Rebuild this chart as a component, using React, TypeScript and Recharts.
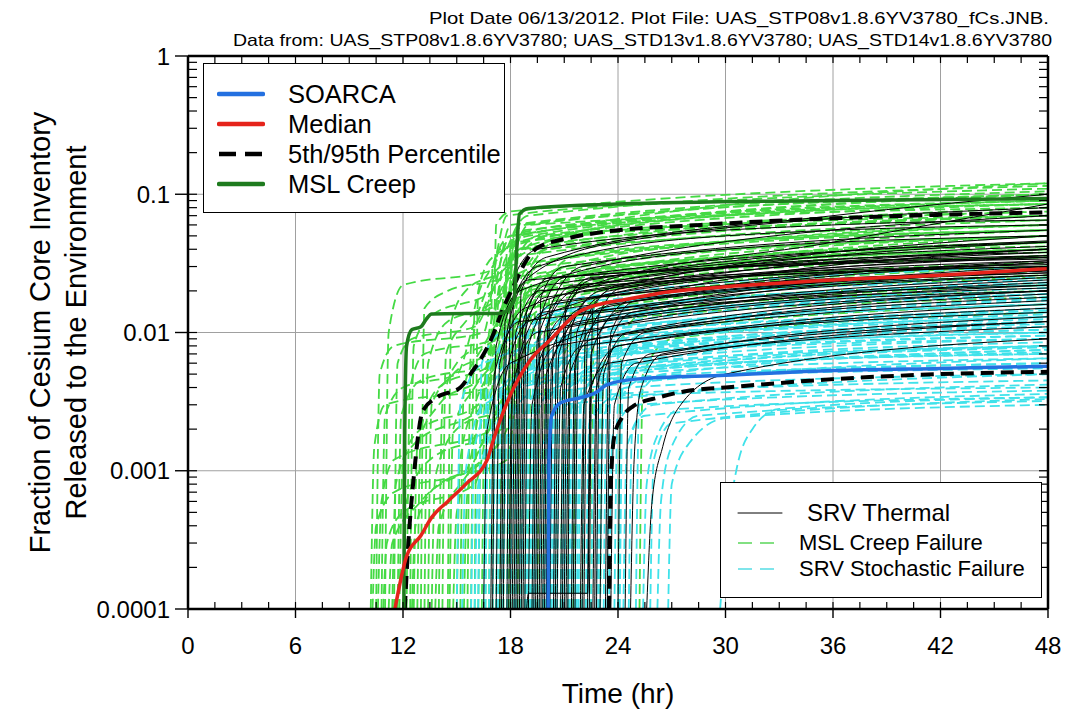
import { CartesianGrid, Line, LineChart, XAxis, YAxis } from "recharts";

type Pt = [number, number];

const xTicks = [0, 6, 12, 18, 24, 30, 36, 42, 48];
const xMinorTicks = [
  0, 1.5, 3, 4.5, 6, 7.5, 9, 10.5, 12, 13.5, 15, 16.5, 18, 19.5, 21, 22.5, 24, 25.5, 27, 28.5, 30, 31.5,
  33, 34.5, 36, 37.5, 39, 40.5, 42, 43.5, 45, 46.5, 48,
];
const yTicks = [0.0001, 0.001, 0.01, 0.1, 1];
const yMinorTicks = [
  0.0001, 0.0002, 0.0003, 0.0004, 0.0005, 0.0006, 0.0007, 0.0008, 0.0009,
  0.001, 0.002, 0.003, 0.004, 0.005, 0.006, 0.007, 0.008, 0.009,
  0.01, 0.02, 0.03, 0.04, 0.05, 0.06, 0.07, 0.08, 0.09,
  0.1, 0.2, 0.3, 0.4, 0.5, 0.6, 0.7, 0.8, 0.9, 1,
];

const titleLines = [
  "Plot Date 06/13/2012. Plot File: UAS_STP08v1.8.6YV3780_fCs.JNB.",
  "Data from: UAS_STP08v1.8.6YV3780; UAS_STD13v1.8.6YV3780; UAS_STD14v1.8.6YV3780",
];

// highlighted curves
const soarca: Pt[] = [
  [20.1, 1e-4], [20.15, 0.0012], [20.3, 0.0025], [20.8, 0.0031], [22, 0.0034], [22.8, 0.0037],
  [23.4, 0.0042], [25, 0.0046], [30, 0.0049], [36, 0.0053], [42, 0.0055], [48, 0.0057],
];
const median: Pt[] = [
  [11.55, 1e-4], [12.2, 0.00024], [13, 0.00034], [13.6, 0.00046], [14.5, 0.0006], [15.55, 0.00081],
  [16.7, 0.0012], [17, 0.0016], [17.8, 0.0031], [19.1, 0.0063], [20.2, 0.0088], [22, 0.0145],
  [24.8, 0.0177], [27, 0.0198], [30, 0.0214], [36, 0.024], [42, 0.026], [48, 0.029],
];
const pct5: Pt[] = [
  [23.5, 1e-4], [23.6, 0.0008], [23.8, 0.0018], [24.2, 0.0024], [24.8, 0.0029], [26.3, 0.0034],
  [28, 0.0038], [30, 0.004], [36, 0.0046], [42, 0.005], [48, 0.0052],
];
const pct95: Pt[] = [
  [12.1, 1e-4], [12.3, 0.0003], [12.6, 0.0009], [13.1, 0.0027], [13.9, 0.0034], [15.2, 0.004],
  [15.9, 0.0053], [16.3, 0.0063], [16.9, 0.0088], [17.6, 0.015], [18.2, 0.022], [18.9, 0.0335],
  [19.5, 0.041], [21.2, 0.048], [23, 0.053], [28.6, 0.06], [36, 0.067], [42, 0.071], [48, 0.074],
];
const mslCreep: Pt[] = [
  [12.05, 1e-4], [12.1, 0.002], [12.2, 0.008], [12.5, 0.0105], [13, 0.011], [13.3, 0.0125],
  [13.6, 0.0136], [17.5, 0.0138], [18.2, 0.017], [18.35, 0.04], [18.5, 0.072], [19, 0.079],
  [24, 0.085], [36, 0.09], [48, 0.093],
];

// ensemble realizations
const srvThermalRuns: Pt[][] = [
  [[16.5, 1e-4], [16.7, 0.002], [18, 0.006], [30, 0.015], [48, 0.02]],
  [[16.9, 1e-4], [17.1, 0.005], [18.5, 0.012], [48, 0.021]],
  [[17, 1e-4], [17.2, 0.008], [18.5, 0.02], [30, 0.04], [48, 0.05]],
  [[17.2, 1e-4], [17.4, 0.006], [18.8, 0.015], [30, 0.03], [48, 0.038]],
  [[17.4, 1e-4], [17.6, 0.004], [19, 0.012], [30, 0.025], [48, 0.03]],
  [[17.5, 1e-4], [17.7, 0.012], [19, 0.024], [48, 0.035]],
  [[17.6, 1e-4], [17.8, 0.01], [19, 0.025], [24, 0.045], [48, 0.08]],
  [[17.8, 1e-4], [18, 0.015], [19.5, 0.03], [30, 0.05], [48, 0.06]],
  [[17.9, 1e-4], [18.1, 0.004], [19.5, 0.01], [48, 0.022]],
  [[18, 1e-4], [18.2, 0.025], [19.5, 0.04], [36, 0.06], [48, 0.065]],
  [[18.1, 1e-4], [18.3, 0.01], [19.6, 0.02], [48, 0.03]],
  [[18.2, 1e-4], [18.4, 0.006], [19.8, 0.014], [48, 0.028]],
  [[18.3, 1e-4], [18.5, 0.009], [20, 0.018], [48, 0.035]],
  [[18.4, 1e-4], [18.6, 0.02], [20, 0.035], [36, 0.07], [48, 0.1]],
  [[18.5, 1e-4], [18.7, 0.012], [20, 0.022], [48, 0.042]],
  [[18.6, 1e-4], [18.8, 0.01], [20, 0.02], [48, 0.04]],
  [[18.7, 1e-4], [18.9, 0.014], [20.2, 0.025], [48, 0.034]],
  [[18.8, 1e-4], [19, 0.008], [20.3, 0.016], [48, 0.032]],
  [[18.9, 1e-4], [19, 1.3e-4], [22.3, 1.3e-4], [22.5, 0.004], [24, 0.008], [48, 0.016]],
  [[19, 1e-4], [19.2, 0.003], [20.5, 0.008], [48, 0.017]],
  [[19.2, 1e-4], [19.4, 0.005], [20.8, 0.011], [48, 0.023]],
  [[19.3, 1e-4], [19.5, 0.009], [20.8, 0.017], [48, 0.027]],
  [[19.4, 1e-4], [19.6, 0.012], [21, 0.025], [48, 0.045]],
  [[19.5, 1e-4], [19.7, 0.018], [21, 0.03], [48, 0.055]],
  [[19.6, 1e-4], [19.8, 0.007], [21, 0.013], [48, 0.026]],
  [[19.7, 1e-4], [19.9, 0.01], [21.5, 0.02], [36, 0.045], [48, 0.085]],
  [[19.8, 1e-4], [20, 0.005], [21.5, 0.01], [48, 0.02]],
  [[19.9, 1e-4], [20.1, 0.012], [21.5, 0.022], [48, 0.031]],
  [[20, 1e-4], [20.2, 0.015], [22, 0.03], [48, 0.07]],
  [[20.1, 1e-4], [20.3, 0.006], [21.8, 0.012], [48, 0.025]],
  [[20.2, 1e-4], [20.4, 0.008], [22, 0.015], [48, 0.033]],
  [[20.4, 1e-4], [20.6, 0.01], [22, 0.02], [48, 0.038]],
  [[20.5, 1e-4], [20.7, 0.007], [22, 0.014], [48, 0.022]],
  [[20.6, 1e-4], [20.8, 0.004], [22, 0.008], [48, 0.014]],
  [[20.8, 1e-4], [21, 0.013], [22.5, 0.024], [48, 0.046]],
  [[20.9, 1e-4], [21.1, 0.016], [22.5, 0.025], [48, 0.036]],
  [[21, 1e-4], [21.2, 0.009], [22.5, 0.018], [48, 0.036]],
  [[21.1, 1e-4], [21.3, 0.005], [22.6, 0.009], [48, 0.018]],
  [[21.2, 1e-4], [21.4, 0.011], [23, 0.02], [48, 0.05]],
  [[21.4, 1e-4], [21.6, 0.006], [23, 0.012], [48, 0.024]],
  [[21.5, 1e-4], [21.7, 0.01], [23, 0.018], [48, 0.028]],
  [[21.6, 1e-4], [21.8, 0.008], [23, 0.015], [48, 0.032]],
  [[21.9, 1e-4], [22.1, 0.003], [23.5, 0.006], [48, 0.011]],
  [[22, 1e-4], [22.2, 0.012], [23.5, 0.02], [48, 0.04]],
  [[22.1, 1e-4], [22.3, 0.009], [23.6, 0.016], [48, 0.026]],
  [[22.3, 1e-4], [22.5, 0.007], [24, 0.014], [48, 0.03]],
  [[22.4, 1e-4], [22.6, 0.015], [24, 0.022], [48, 0.045]],
  [[22.6, 1e-4], [22.8, 0.004], [24, 0.008], [48, 0.015]],
  [[22.7, 1e-4], [22.9, 0.013], [24.2, 0.021], [48, 0.033]],
  [[22.8, 1e-4], [23, 0.01], [25, 0.018], [48, 0.04]],
  [[23, 1e-4], [23.2, 0.005], [24.5, 0.01], [48, 0.02]],
  [[23.3, 1e-4], [23.5, 0.008], [24.8, 0.014], [48, 0.028]],
  [[23.4, 1e-4], [23.6, 0.01], [25, 0.017], [48, 0.027]],
  [[23.6, 1e-4], [23.8, 0.003], [25, 0.006], [48, 0.012]],
  [[24, 1e-4], [24.2, 0.006], [25.5, 0.01], [48, 0.019]],
  [[24.4, 1e-4], [24.6, 0.004], [25.8, 0.007], [48, 0.012]],
  [[24.7, 1e-4], [24.9, 0.0012], [25.3, 0.004], [26.5, 0.007], [48, 0.013]],
  [[25.6, 1e-4], [25.9, 0.0006], [26.5, 0.0015], [27.5, 0.003], [30, 0.005], [48, 0.009]],
];

const srvStochasticRuns: Pt[][] = [
  [[15, 1e-4], [15.2, 0.003], [16.5, 0.006], [24, 0.01], [48, 0.014]],
  [[15.3, 1e-4], [15.5, 0.001], [16.5, 0.003], [24, 0.006], [48, 0.008]],
  [[15.8, 1e-4], [16, 0.0015], [17.5, 0.004], [24, 0.007], [48, 0.009]],
  [[16, 1e-4], [16.2, 0.0008], [17, 0.002], [18.5, 0.004], [48, 0.012]],
  [[16.2, 1e-4], [16.4, 0.006], [17.5, 0.01], [30, 0.018], [48, 0.022]],
  [[16.5, 1e-4], [16.7, 0.005], [18, 0.009], [30, 0.015], [48, 0.018]],
  [[16.6, 1e-4], [16.8, 0.0035], [18, 0.006], [48, 0.0095]],
  [[16.8, 1e-4], [17, 0.0025], [18.3, 0.005], [30, 0.009], [48, 0.0115]],
  [[17, 1e-4], [17.2, 0.002], [18.5, 0.005], [30, 0.008], [48, 0.01]],
  [[17.2, 1e-4], [17.4, 0.008], [18.8, 0.013], [48, 0.028]],
  [[17.3, 1e-4], [17.5, 0.004], [18.8, 0.008], [48, 0.0135]],
  [[17.5, 1e-4], [17.7, 0.006], [19, 0.012], [30, 0.02], [48, 0.025]],
  [[17.6, 1e-4], [17.8, 0.0018], [19, 0.0035], [48, 0.0065]],
  [[17.8, 1e-4], [18, 0.0035], [19.5, 0.007], [48, 0.015]],
  [[18, 1e-4], [18.2, 0.003], [19.5, 0.006], [30, 0.009], [48, 0.011]],
  [[18.2, 1e-4], [18.4, 0.005], [19.8, 0.009], [48, 0.017]],
  [[18.3, 1e-4], [18.5, 0.007], [19.8, 0.012], [48, 0.019]],
  [[18.5, 1e-4], [18.7, 0.004], [20, 0.007], [48, 0.012]],
  [[18.6, 1e-4], [18.8, 0.0025], [20, 0.0045], [48, 0.0075]],
  [[18.8, 1e-4], [19, 0.01], [20.5, 0.016], [48, 0.024]],
  [[18.9, 1e-4], [19.1, 0.0055], [20.5, 0.009], [48, 0.0145]],
  [[19, 1e-4], [19.2, 0.002], [20.5, 0.004], [30, 0.006], [48, 0.007]],
  [[19.1, 1e-4], [19.3, 0.006], [20.5, 0.01], [48, 0.016]],
  [[19.2, 1e-4], [19.4, 0.0045], [20.8, 0.008], [48, 0.013]],
  [[19.3, 1e-4], [19.5, 0.009], [21, 0.014], [48, 0.022]],
  [[19.4, 1e-4], [19.6, 0.007], [21, 0.012], [48, 0.02]],
  [[19.6, 1e-4], [19.8, 0.0015], [21, 0.003], [48, 0.005]],
  [[19.8, 1e-4], [20, 0.003], [21.5, 0.005], [48, 0.008]],
  [[19.9, 1e-4], [20.1, 0.005], [21.5, 0.008], [48, 0.0125]],
  [[20, 1e-4], [20.2, 0.004], [21.5, 0.007], [48, 0.0105]],
  [[20.2, 1e-4], [20.4, 0.0025], [22, 0.0045], [48, 0.006]],
  [[20.3, 1e-4], [20.5, 0.0065], [22, 0.01], [48, 0.0175]],
  [[20.4, 1e-4], [20.6, 0.007], [22, 0.011], [48, 0.019]],
  [[20.5, 1e-4], [20.7, 0.012], [22, 0.018], [48, 0.03]],
  [[20.6, 1e-4], [20.8, 0.005], [22, 0.008], [48, 0.013]],
  [[20.8, 1e-4], [21, 0.0035], [22.5, 0.0055], [48, 0.008]],
  [[20.9, 1e-4], [21.1, 0.0045], [22.5, 0.007], [48, 0.0105]],
  [[21, 1e-4], [21.2, 0.002], [22.5, 0.0035], [48, 0.0045]],
  [[21.2, 1e-4], [21.4, 0.0028], [23, 0.0045], [48, 0.0055]],
  [[21.3, 1e-4], [21.5, 0.01], [23, 0.014], [48, 0.023]],
  [[21.4, 1e-4], [21.6, 0.004], [23, 0.006], [48, 0.009]],
  [[21.6, 1e-4], [21.8, 0.008], [23, 0.012], [48, 0.021]],
  [[21.7, 1e-4], [21.9, 0.0032], [23, 0.005], [48, 0.0072]],
  [[21.8, 1e-4], [22, 0.006], [23.5, 0.01], [48, 0.016]],
  [[22, 1e-4], [22.2, 0.0045], [23.5, 0.007], [48, 0.01]],
  [[22.2, 1e-4], [22.4, 0.0022], [24, 0.0035], [48, 0.004]],
  [[22.3, 1e-4], [22.5, 0.006], [24, 0.009], [48, 0.014]],
  [[22.5, 1e-4], [22.7, 0.003], [24, 0.005], [48, 0.0065]],
  [[22.8, 1e-4], [23, 0.0035], [24.5, 0.0055], [48, 0.007]],
  [[22.9, 1e-4], [23.1, 0.0045], [24.5, 0.007], [48, 0.0095]],
  [[23, 1e-4], [23.2, 0.0025], [24.5, 0.004], [48, 0.005]],
  [[23.2, 1e-4], [23.4, 0.005], [24.8, 0.008], [48, 0.012]],
  [[23.4, 1e-4], [23.6, 0.0038], [25, 0.0055], [48, 0.0078]],
  [[23.5, 1e-4], [23.7, 0.0018], [25, 0.003], [48, 0.0038]],
  [[23.8, 1e-4], [24, 0.003], [25.2, 0.0045], [48, 0.006]],
  [[24, 1e-4], [24.2, 0.004], [25.5, 0.006], [48, 0.0085]],
  [[24.1, 1e-4], [24.3, 0.0055], [25.5, 0.008], [48, 0.011]],
  [[24.3, 1e-4], [24.5, 0.0015], [25.5, 0.0025], [48, 0.0036]],
  [[24.6, 1e-4], [24.8, 0.002], [26, 0.003], [48, 0.0042]],
  [[25, 1e-4], [25.2, 0.0035], [26.5, 0.005], [48, 0.0075]],
  [[25.4, 1e-4], [25.6, 0.0008], [26.2, 0.0018], [27.5, 0.0028], [48, 0.0034]],
  [[25.8, 1e-4], [26, 0.0012], [27, 0.0022], [48, 0.0033]],
  [[26.2, 1e-4], [26.4, 0.0006], [27, 0.0015], [28.5, 0.0025], [48, 0.0032]],
  [[26.8, 1e-4], [27, 0.0008], [28, 0.0016], [30, 0.0024], [48, 0.003]],
  [[29.7, 1e-4], [30, 0.0003], [30.6, 0.001], [31.5, 0.002], [33, 0.0028], [48, 0.0034]],
];

const mslCreepRuns: Pt[][] = [
  [[10.2, 1e-4], [10.4, 0.0015], [11, 0.003], [16.8, 0.004], [17.6, 0.03], [24, 0.06], [48, 0.09]],
  [[10.3, 1e-4], [10.5, 0.0004], [11.5, 0.0007], [15.5, 0.001], [16.5, 0.004], [18, 0.02], [48, 0.05]],
  [[10.5, 1e-4], [10.7, 0.005], [11.5, 0.008], [16.5, 0.01], [17.4, 0.04], [30, 0.07], [48, 0.085]],
  [[10.6, 1e-4], [10.8, 0.0006], [11.5, 0.0012], [17, 0.002], [18, 0.02], [26, 0.04], [48, 0.06]],
  [[10.8, 1e-4], [11, 0.0025], [12, 0.004], [15, 0.005], [16, 0.012], [17.5, 0.03], [48, 0.06]],
  [[10.9, 1e-4], [11.1, 0.0003], [12, 0.0005], [16, 0.0008], [17.5, 0.008], [24, 0.025], [48, 0.035]],
  [[11, 1e-4], [11.2, 0.01], [12, 0.022], [16.9, 0.028], [17.8, 0.07], [30, 0.09], [48, 0.11]],
  [[11.2, 1e-4], [11.4, 0.0003], [13, 0.0006], [17.2, 0.0015], [18.2, 0.025], [48, 0.055]],
  [[11.4, 1e-4], [11.6, 0.0008], [12.5, 0.0015], [16.5, 0.003], [17.5, 0.015], [24, 0.03], [48, 0.045]],
  [[11.5, 1e-4], [11.7, 0.006], [12.5, 0.009], [16, 0.011], [17, 0.02], [18, 0.05], [48, 0.1]],
  [[11.7, 1e-4], [11.9, 0.0025], [13, 0.0045], [17.4, 0.006], [18.3, 0.04], [48, 0.08]],
  [[11.8, 1e-4], [12, 0.0012], [13, 0.002], [16.2, 0.003], [17.2, 0.01], [24, 0.03], [48, 0.04]],
  [[12, 1e-4], [12.2, 0.0006], [13.5, 0.0012], [17.5, 0.002], [18.5, 0.018], [48, 0.045]],
  [[12.2, 1e-4], [12.4, 0.004], [13.2, 0.007], [17.2, 0.009], [18.2, 0.05], [30, 0.07], [48, 0.085]],
  [[12.4, 1e-4], [12.6, 0.008], [13.5, 0.013], [17, 0.02], [18, 0.06], [48, 0.105]],
  [[12.5, 1e-4], [12.7, 0.0004], [14, 0.0008], [17.8, 0.0012], [18.8, 0.012], [48, 0.028]],
  [[12.6, 1e-4], [12.8, 0.0015], [14, 0.003], [16.5, 0.005], [17.8, 0.035], [48, 0.065]],
  [[12.8, 1e-4], [13, 0.002], [14, 0.004], [17, 0.006], [18.4, 0.03], [30, 0.045], [48, 0.055]],
  [[13, 1e-4], [13.2, 0.015], [14.5, 0.02], [17.6, 0.025], [18.5, 0.05], [48, 0.12]],
  [[13.2, 1e-4], [13.4, 0.006], [14.5, 0.012], [17.3, 0.016], [18.5, 0.06], [48, 0.1]],
  [[13.4, 1e-4], [13.6, 0.003], [14.8, 0.005], [17.2, 0.008], [18.3, 0.045], [48, 0.075]],
  [[13.6, 1e-4], [13.8, 0.0009], [15, 0.002], [17.8, 0.003], [19, 0.02], [30, 0.03], [48, 0.038]],
  [[13.8, 1e-4], [14, 0.0004], [15.5, 0.0009], [17.8, 0.002], [19, 0.015], [48, 0.03]],
  [[14, 1e-4], [14.2, 0.003], [15, 0.006], [17.5, 0.01], [18.6, 0.04], [48, 0.07]],
  [[14.2, 1e-4], [14.4, 0.007], [15.5, 0.012], [17.6, 0.02], [18.8, 0.055], [48, 0.09]],
  [[14.5, 1e-4], [14.7, 0.012], [15.5, 0.02], [17.8, 0.03], [19, 0.06], [48, 0.08]],
  [[14.6, 1e-4], [14.8, 0.002], [16, 0.004], [18, 0.009], [19.5, 0.03], [48, 0.05]],
  [[14.8, 1e-4], [15, 0.0005], [16, 0.0012], [18, 0.004], [19.5, 0.018], [48, 0.03]],
  [[15, 1e-4], [15.2, 0.0012], [16, 0.003], [18, 0.008], [19.5, 0.025], [48, 0.04]],
  [[15.2, 1e-4], [15.4, 0.004], [16.5, 0.008], [18.2, 0.018], [20, 0.04], [48, 0.07]],
  [[15.4, 1e-4], [15.6, 0.0007], [16.8, 0.002], [18.5, 0.006], [20, 0.015], [48, 0.025]],
  [[15.6, 1e-4], [15.8, 0.008], [16.5, 0.015], [18, 0.03], [20, 0.05], [48, 0.065]],
  [[15.8, 1e-4], [16, 0.015], [17, 0.03], [19, 0.05], [48, 0.1]],
  [[16, 1e-4], [16.2, 0.02], [17, 0.035], [20, 0.05], [48, 0.075]],
  [[16.2, 1e-4], [16.4, 0.003], [17.5, 0.008], [19.5, 0.02], [48, 0.045]],
  [[16.4, 1e-4], [16.6, 0.005], [17.5, 0.012], [20, 0.02], [48, 0.03]],
  [[16.6, 1e-4], [16.8, 0.01], [18, 0.025], [24, 0.04], [48, 0.055]],
  [[16.8, 1e-4], [17, 0.03], [18, 0.05], [24, 0.065], [48, 0.09]],
  [[17, 1e-4], [17.2, 0.06], [18, 0.075], [48, 0.12]],
  [[17.2, 1e-4], [17.4, 0.01], [18.5, 0.02], [24, 0.028], [48, 0.035]],
  [[17.4, 1e-4], [17.6, 0.02], [18.5, 0.04], [24, 0.055], [48, 0.07]],
  [[17.6, 1e-4], [17.8, 0.04], [18.8, 0.06], [48, 0.1]],
  [[17.8, 1e-4], [18, 0.008], [19, 0.015], [30, 0.025], [48, 0.03]],
  [[17.9, 1e-4], [18.1, 0.05], [19, 0.07], [48, 0.115]],
  [[18, 1e-4], [18.2, 0.015], [19.5, 0.025], [30, 0.035], [48, 0.042]],
  [[18.2, 1e-4], [18.4, 0.035], [19.5, 0.05], [48, 0.085]],
  [[18.4, 1e-4], [18.6, 0.025], [20, 0.04], [48, 0.06]],
  [[18.6, 1e-4], [18.8, 0.012], [20, 0.02], [48, 0.036]],
  [[18.8, 1e-4], [19, 0.006], [20.5, 0.012], [30, 0.018], [48, 0.022]],
  [[19, 1e-4], [19.2, 0.03], [20.5, 0.045], [48, 0.07]],
  [[19.2, 1e-4], [19.4, 0.02], [21, 0.03], [48, 0.05]],
  [[19.5, 1e-4], [19.7, 0.015], [21, 0.025], [48, 0.04]],
  [[19.8, 1e-4], [20, 0.01], [22, 0.016], [48, 0.025]],
  [[20, 1e-4], [20.2, 0.025], [21.5, 0.035], [48, 0.055]],
  [[20.5, 1e-4], [20.7, 0.012], [22, 0.02], [48, 0.032]],
  [[20.8, 1e-4], [21, 0.007], [22.5, 0.012], [48, 0.018]],
  [[21.2, 1e-4], [21.4, 0.018], [22.5, 0.028], [48, 0.045]],
  [[21.5, 1e-4], [21.7, 0.008], [23, 0.014], [48, 0.02]],
  [[22, 1e-4], [22.2, 0.01], [23.5, 0.016], [48, 0.026]],
  [[22.5, 1e-4], [22.7, 0.02], [24, 0.03], [48, 0.05]],
  [[23, 1e-4], [23.2, 0.006], [25, 0.01], [48, 0.016]],
  [[24, 1e-4], [24.2, 0.009], [25.5, 0.014], [48, 0.022]],
  [[25.2, 1e-4], [25.4, 0.005], [27, 0.009], [48, 0.014]],
];

const toRows = (pts: Pt[]) => pts.map(([t, v]) => ({ t, v }));

const FONT = "'Liberation Sans', Arial, sans-serif";

function YTitle(props: any) {
  const vb = props.viewBox || { x: 0, y: 56, width: 188, height: 553 };
  const cy = Number(vb.y) + Number(vb.height) / 2;
  const x1 = Number(vb.x) + 40;
  const x2 = Number(vb.x) + 76;
  return (
    <g fontFamily={FONT} fontSize={29} fill="#000">
      <text x={x1} y={cy} textAnchor="middle" dominantBaseline="central" transform={`rotate(-90 ${x1} ${cy})`}>
        Fraction of Cesium Core Inventory
      </text>
      <text x={x2} y={cy} textAnchor="middle" dominantBaseline="central" transform={`rotate(-90 ${x2} ${cy})`}>
        Released to the Environment
      </text>
    </g>
  );
}

// main tick labels draw their own outward tick mark (tickSize is 0, tickMargin is the gap)
const Y_GAP = 18;
const X_GAP = 27;

function YTick(p: any) {
  const x = Number(p.x);
  const y = Number(p.y);
  return (
    <g>
      <line x1={x + 5} x2={x + Y_GAP} y1={y} y2={y} stroke="#000" strokeWidth={1.4} />
      <text x={x} y={y} textAnchor="end" dominantBaseline="central" fontSize={24} fontFamily={FONT} fill="#000">
        {String(p.payload.value)}
      </text>
    </g>
  );
}

function XTick(p: any) {
  const x = Number(p.x);
  const y = Number(p.y);
  return (
    <g>
      <line x1={x} x2={x} y1={y - X_GAP} y2={y - X_GAP + 9} stroke="#000" strokeWidth={1.4} />
      <text x={x} y={y} textAnchor="middle" dy="0.75em" fontSize={24} fontFamily={FONT} fill="#000">
        {String(p.payload.value)}
      </text>
    </g>
  );
}

// inward minor ticks, drawn from the axis position
const makeMinor = (dx: number, dy: number) => (p: any) => {
  const x = Number(p.x);
  const y = Number(p.y);
  return <line x1={x} y1={y} x2={x + dx} y2={y + dy} stroke="#000" strokeWidth={1.2} />;
};
const MinorLeft = makeMinor(9, 0);
const MinorRight = makeMinor(-9, 0);
const MinorBottom = makeMinor(0, -7);
const MinorTop = makeMinor(0, 7);

function Sample({ color, dash, width }: { color: string; dash?: string; width: number }) {
  return (
    <svg width={48} height={10} style={{ display: "block" }}>
      <line x1={2} y1={5} x2={46} y2={5} stroke={color} strokeWidth={width} strokeDasharray={dash} strokeLinecap={dash ? "butt" : "round"} />
    </svg>
  );
}

const legendMain = [
  { label: "SOARCA", color: "#2370e0", dash: undefined },
  { label: "Median", color: "#e5231b", dash: undefined },
  { label: "5th/95th Percentile", color: "#000", dash: "17 9" },
  { label: "MSL Creep", color: "#1e7b1e", dash: undefined },
];
const legendRuns = [
  { label: "SRV Thermal", color: "#000", dash: undefined, w: 1, size: 24, tx: 86 },
  { label: "MSL Creep Failure", color: "#5ad65a", dash: "14 8", w: 1.6, size: 22, tx: 78 },
  { label: "SRV Stochastic Failure", color: "#55dde5", dash: "14 8", w: 1.6, size: 22, tx: 78 },
];

export default function App() {
  const common = { dataKey: "v", dot: false, isAnimationActive: false, type: "monotoneX" as const, activeDot: false };
  const frame = { stroke: "#000", strokeWidth: 2.5 };
  return (
    <div style={{ position: "absolute", left: 0, top: 0, width: 1084, height: 714, background: "#fff", fontFamily: FONT }}>
      <LineChart width={1084} height={714} margin={{ top: 56, right: 36, left: 0, bottom: 0 }}>
        <CartesianGrid stroke="#a0a0a0" strokeWidth={1} />
        <XAxis
          dataKey="t"
          type="number"
          domain={[0, 48]}
          ticks={xTicks}
          interval={0}
          allowDataOverflow
          height={105}
          tickSize={0}
          tickMargin={X_GAP}
          tick={XTick}
          tickLine={false}
          axisLine={frame}
          label={{ value: "Time (hr)", position: "insideBottom", offset: 11, fontSize: 28, fill: "#000", fontFamily: FONT }}
        />
        <XAxis xAxisId="mb" dataKey="t" type="number" domain={[0, 48]} ticks={xMinorTicks} interval={0} allowDataOverflow mirror tick={MinorBottom} tickSize={0} tickMargin={0} tickLine={false} axisLine={false} />
        <XAxis xAxisId="mt" dataKey="t" orientation="top" type="number" domain={[0, 48]} ticks={xMinorTicks} interval={0} allowDataOverflow mirror tick={MinorTop} tickSize={0} tickMargin={0} tickLine={false} axisLine={frame} />
        <YAxis
          scale="log"
          type="number"
          domain={[0.0001, 1]}
          ticks={yTicks}
          interval={0}
          allowDataOverflow
          width={188}
          tickSize={0}
          tickMargin={Y_GAP}
          tick={YTick}
          tickLine={false}
          axisLine={frame}
          label={(p: any) => <YTitle {...p} />}
        />
        <YAxis yAxisId="ml" scale="log" type="number" domain={[0.0001, 1]} ticks={yMinorTicks} interval={0} allowDataOverflow mirror tick={MinorLeft} tickSize={0} tickMargin={0} tickLine={false} axisLine={false} />
        <YAxis yAxisId="mr" orientation="right" scale="log" type="number" domain={[0.0001, 1]} ticks={yMinorTicks} interval={0} allowDataOverflow mirror tick={MinorRight} tickSize={0} tickMargin={0} tickLine={false} axisLine={frame} />

        {/* invisible series so the minor-tick axes get a scale */}
        <Line {...common} xAxisId="mb" yAxisId="ml" data={toRows(soarca)} stroke="none" />
        <Line {...common} xAxisId="mt" yAxisId="mr" data={toRows(soarca)} stroke="none" />

        {mslCreepRuns.map((run, i) => (
          <Line key={`ms${i}`} {...common} data={toRows(run)} stroke="#44da44" strokeWidth={1.8} strokeDasharray="10 5" />
        ))}
        {srvStochasticRuns.map((run, i) => (
          <Line key={`st${i}`} {...common} data={toRows(run)} stroke="#3fe2ea" strokeWidth={1.8} strokeDasharray="10 5" />
        ))}
        {srvThermalRuns.map((run, i) => (
          <Line key={`th${i}`} {...common} data={toRows(run)} stroke="#000" strokeWidth={1} />
        ))}
        <Line {...common} data={toRows(pct5)} stroke="#000" strokeWidth={4} strokeDasharray="13 7" />
        <Line {...common} data={toRows(pct95)} stroke="#000" strokeWidth={4} strokeDasharray="13 7" />
        <Line {...common} data={toRows(mslCreep)} stroke="#1e7b1e" strokeWidth={3.5} />
        <Line {...common} data={toRows(median)} stroke="#e5231b" strokeWidth={3.5} />
        <Line {...common} data={toRows(soarca)} stroke="#2370e0" strokeWidth={3.5} />
      </LineChart>

      <svg width={1084} height={56} style={{ position: "absolute", left: 0, top: 0 }}>
        <text x={1049} y={24} textAnchor="end" fontSize={17} fontFamily={FONT} textLength={620} lengthAdjust="spacingAndGlyphs">
          {titleLines[0]}
        </text>
        <text x={1052} y={46} textAnchor="end" fontSize={17} fontFamily={FONT} textLength={819} lengthAdjust="spacingAndGlyphs">
          {titleLines[1]}
        </text>
      </svg>

      <div style={{ position: "absolute", left: 203, top: 63, width: 300, height: 148, border: "1.5px solid #000", background: "#fff" }}>
        {legendMain.map((d, i) => (
          <div key={d.label} style={{ position: "absolute", left: 0, top: 30 * i + 17, height: 26, display: "flex", alignItems: "center" }}>
            <div style={{ position: "absolute", left: 13 }}>
              <Sample color={d.color} dash={d.dash} width={4.5} />
            </div>
            <span style={{ position: "absolute", left: 84, fontSize: 25.5, whiteSpace: "nowrap", lineHeight: "26px", top: 0 }}>{d.label}</span>
          </div>
        ))}
      </div>

      <div style={{ position: "absolute", left: 720, top: 482, width: 320, height: 114, border: "1.5px solid #000", background: "#fff" }}>
        {legendRuns.map((d, i) => (
          <div key={d.label} style={{ position: "absolute", left: 0, top: [17, 47, 73][i], height: 26, width: 320 }}>
            <div style={{ position: "absolute", left: 15, top: 8 }}>
              <Sample color={d.color} dash={d.dash} width={d.w} />
            </div>
            <span style={{ position: "absolute", left: d.tx, fontSize: d.size, whiteSpace: "nowrap", lineHeight: "26px", top: 0 }}>{d.label}</span>
          </div>
        ))}
      </div>
    </div>
  );
}
